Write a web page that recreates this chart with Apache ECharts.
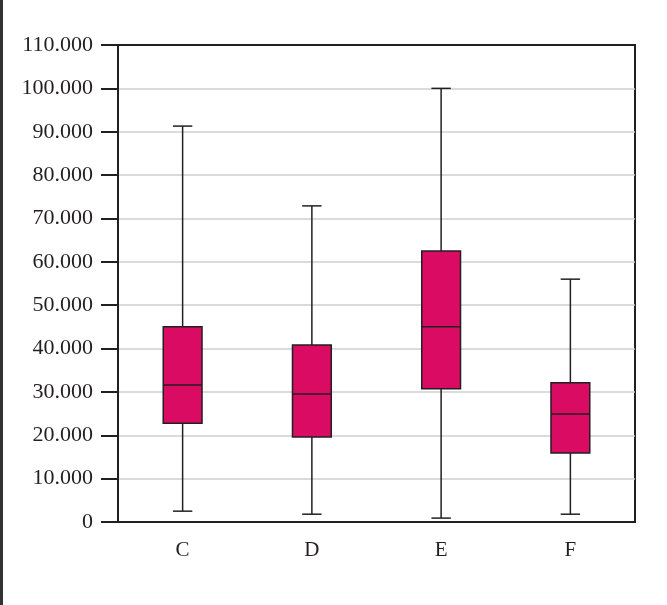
<!DOCTYPE html>
<html>
<head>
<meta charset="utf-8">
<script src="https://cdn.jsdelivr.net/npm/echarts@6/dist/echarts.min.js"></script>
<style>
  html, body { margin: 0; padding: 0; background: #fff; }
  #chart { width: 667px; height: 605px; }
</style>
</head>
<body>
<div id="chart"></div>
<script>
// Box plot summary per category
const categories = ['C', 'D', 'E', 'F'];
const mins    = [2500, 1800, 900, 1800];
const q1s     = [22800, 19600, 30700, 15900];
const medians = [31600, 29500, 45000, 24900];
const q3s     = [45000, 40800, 62500, 32100];
const maxs    = [91300, 72900, 100000, 56000];

const boxData = categories.map((c, i) => [i, mins[i], q1s[i], medians[i], q3s[i], maxs[i]]);

const FONT = '"Liberation Serif", "DejaVu Serif", serif';
const INK = '#231f20';
const GRID_GRAY = '#cfcfcf';

function renderBox(params, api) {
  const idx = api.value(0);
  const pMin = api.coord([idx, api.value(1)]);
  const pQ1 = api.coord([idx, api.value(2)]);
  const pMed = api.coord([idx, api.value(3)]);
  const pQ3 = api.coord([idx, api.value(4)]);
  const pMax = api.coord([idx, api.value(5)]);
  const cx = pMed[0];
  const bw = api.size([1, 0])[0] * 0.3;
  const cw = bw * 0.5;
  const lineStyle = { stroke: INK, lineWidth: 1.5 };
  return {
    type: 'group',
    children: [
      { type: 'line', shape: { x1: cx, y1: pMax[1], x2: cx, y2: pQ3[1] }, style: lineStyle },
      { type: 'line', shape: { x1: cx, y1: pQ1[1], x2: cx, y2: pMin[1] }, style: lineStyle },
      { type: 'line', shape: { x1: cx - cw / 2, y1: pMax[1], x2: cx + cw / 2, y2: pMax[1] }, style: lineStyle },
      { type: 'line', shape: { x1: cx - cw / 2, y1: pMin[1], x2: cx + cw / 2, y2: pMin[1] }, style: lineStyle },
      { type: 'rect', shape: { x: cx - bw / 2, y: pQ3[1], width: bw, height: pQ1[1] - pQ3[1] },
        style: { fill: '#d90b63', stroke: INK, lineWidth: 1.5 } },
      { type: 'line', shape: { x1: cx - bw / 2, y1: pMed[1], x2: cx + bw / 2, y2: pMed[1] }, style: lineStyle }
    ]
  };
}

// Gridline colours per tick (0 … 110.000); the top one is left to the frame
const splitColors = [];
for (let i = 0; i < 11; i++) splitColors.push(GRID_GRAY);
splitColors.push('rgba(0,0,0,0)');

const chart = echarts.init(document.getElementById('chart'), null, { renderer: 'canvas' });
chart.setOption({
  animation: false,
  backgroundColor: '#fff',
  grid: {
    left: 118, right: 32, top: 45, bottom: 83,
    show: true, borderColor: INK, borderWidth: 2, backgroundColor: 'transparent'
  },
  graphic: [
    { type: 'rect', left: 0, top: 0, shape: { width: 3, height: 605 }, style: { fill: '#333' } }
  ],
  xAxis: {
    type: 'category',
    data: categories,
    axisLine: { show: true, lineStyle: { color: INK, width: 2 } },
    axisTick: { show: false },
    axisLabel: { color: INK, fontFamily: FONT, fontSize: 21, margin: 18 },
    splitLine: { show: false }
  },
  yAxis: {
    type: 'value',
    min: 0, max: 110000, interval: 10000,
    axisLine: { show: true, lineStyle: { color: INK, width: 2 } },
    axisTick: { show: true, inside: false, length: 17, lineStyle: { color: INK, width: 2 } },
    axisLabel: {
      color: INK, fontFamily: FONT, fontSize: 22, margin: 25,
      formatter: v => v === 0 ? '0' : (v / 1000) + '.000'
    },
    splitLine: { show: true, lineStyle: { color: splitColors, width: 1.5 } }
  },
  series: [{
    type: 'custom',
    renderItem: renderBox,
    encode: { x: 0, y: [1, 2, 3, 4, 5] },
    data: boxData,
    z: 3
  }]
});
</script>
</body>
</html>
